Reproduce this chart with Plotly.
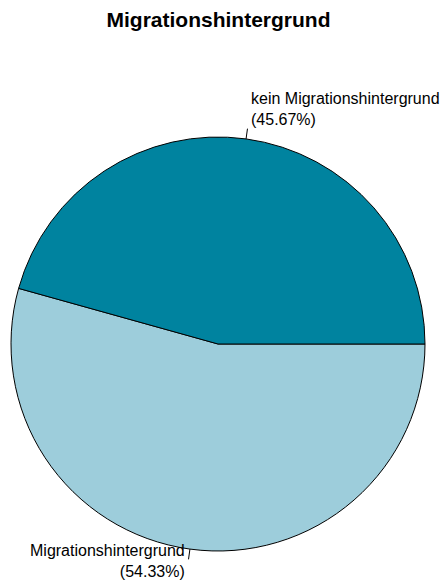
import math
import plotly.graph_objects as go

# --- DATA ---
labels = ["kein Migrationshintergrund", "Migrationshintergrund"]
shares = [45.67, 54.33]
colors = ["#00839F", "#9DCDDB"]
chart_title = "Migrationshintergrund"

# --- GEOMETRY (pixels) ---
W, H = 446, 580
CX, CY, R = 218, 344, 207
FONT = "Liberation Sans, Arial, sans-serif"

fig = go.Figure()
# R draws counterclockwise from 3 o'clock; plotly: reverse order and go clockwise
fig.add_trace(go.Pie(
    labels=labels[::-1], values=shares[::-1], sort=False,
    direction="clockwise", rotation=90,
    marker=dict(colors=colors[::-1], line=dict(color="black", width=1)),
    textinfo="none", hoverinfo="label+percent",
    domain=dict(x=[(CX - R) / W, (CX + R) / W],
                y=[(H - CY - R) / H, (H - CY + R) / H]),
    showlegend=False,
))

# labels placed like R's pie(): at 1.1 r on the slice midpoint, tick from r to 1.05 r
total = sum(shares)
start = 0.0
for lab, v in zip(labels, shares):
    mid = 2 * math.pi * (start + v / 2) / total
    start += v
    c, s = math.cos(mid), math.sin(mid)
    fig.add_shape(type="line", xref="paper", yref="paper",
                  x0=(CX + R * c) / W, y0=1 - (CY - R * s) / H,
                  x1=(CX + 1.05 * R * c) / W, y1=1 - (CY - 1.05 * R * s) / H,
                  line=dict(color="black", width=1))
    left = c < 0
    fig.add_annotation(
        xref="paper", yref="paper",
        x=(CX + 1.1 * R * c) / W, y=1 - (CY - 1.1 * R * s) / H,
        text=f"{lab}<br>({v:.2f}%)", showarrow=False,
        xanchor="right" if left else "left", align="right" if left else "left",
        yanchor="middle", yshift=9,
        font=dict(family=FONT, size=16, color="black"),
    )

fig.update_layout(
    width=W, height=H,
    margin=dict(l=0, r=0, t=0, b=0),
    paper_bgcolor="white", plot_bgcolor="white",
    title=dict(text=f"<b>{chart_title}</b>", x=0.49, xanchor="center",
               y=1 - 20 / H, yanchor="middle",
               font=dict(family=FONT, size=21, color="black")),
)

fig.write_html("out.html", config={"displayModeBar": False},
               post_script="document.body.style.margin='0';")
